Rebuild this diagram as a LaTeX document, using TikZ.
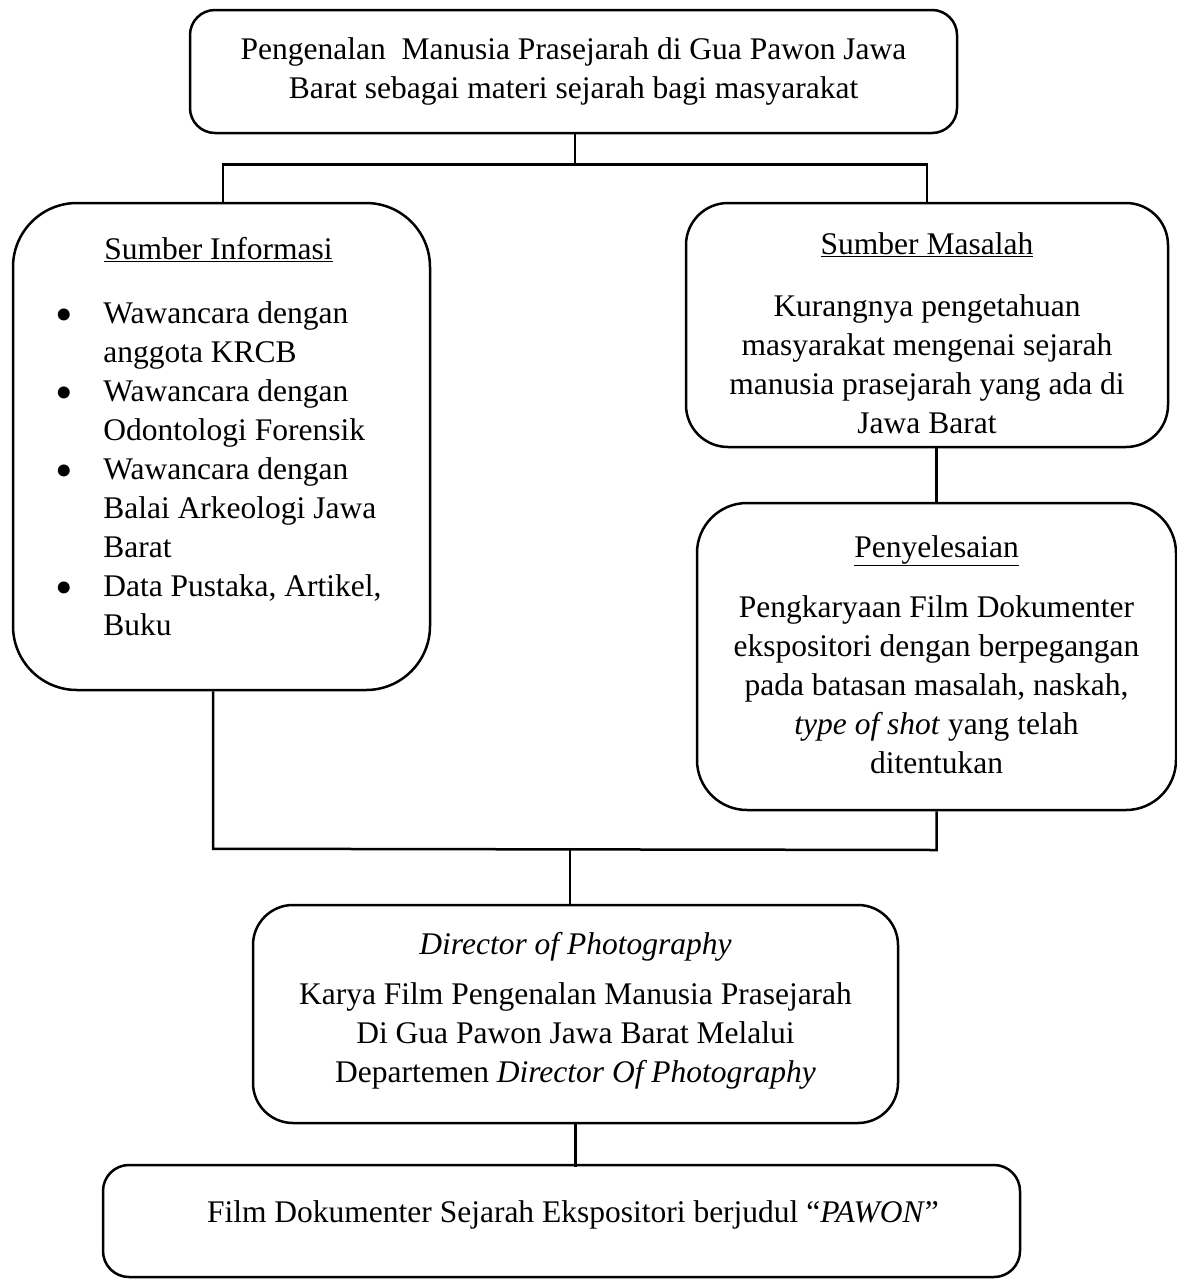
\documentclass[tikz,border=0pt]{standalone}
\usepackage{fontspec}
\setmainfont{Liberation Serif}
\usetikzlibrary{positioning}
\newcommand{\butir}{{\fontsize{50}{39}\selectfont\raisebox{-8pt}{\textbullet}}}

\begin{document}
\begin{tikzpicture}[
  x=1pt, y=-1pt,
  font=\fontsize{31.5}{39}\selectfont,
  link/.style={line width=2.5pt},
  rbox/.style={rectangle, draw, line width=2.5pt, inner sep=0pt},
  txt/.style={inner sep=0pt, align=center},
]
\useasboundingbox (0,0) rectangle (1176,1280);

%% ===== Topic =====
\node[rbox, rounded corners=25pt, minimum width=767pt, minimum height=123pt,
      align=center] (topik) at (573.5,71.5)
  {Pengenalan\ \ Manusia Prasejarah di Gua Pawon Jawa\\
   Barat sebagai materi sejarah bagi masyarakat};

%% ===== Left: information =====
\node[rbox, rounded corners=64pt, minimum width=417pt, minimum height=487pt]
  (info) at (221.5,446.5) {};
\node[txt, below=30.5pt of info.north, xshift=-3pt] (infotxt) {%
  \begin{tabular}{@{}p{48pt}@{}l@{}}
    \multicolumn{2}{c}{\underline{Sumber Informasi}}\\[25pt]
    \butir & Wawancara dengan\\
           & anggota KRCB\\
    \butir & Wawancara dengan\\
           & Odontologi Forensik\\
    \butir & Wawancara dengan\\
           & Balai Arkeologi Jawa\\
           & Barat\\
    \butir & Data Pustaka, Artikel,\\
           & Buku
  \end{tabular}};

%% ===== Right: problem and solution =====
\node[rbox, rounded corners=42pt, minimum width=482pt, minimum height=244pt]
  (masalah) at (927,325) {};
\node[txt, below=30.5pt of masalah.north] (masalahtxt)
  {\underline{Sumber Masalah}\\[23pt]
   Kurangnya pengetahuan\\
   masyarakat mengenai sejarah\\
   manusia prasejarah yang ada di\\
   Jawa Barat};

\node[rbox, rounded corners=50pt, minimum width=479pt, minimum height=307pt]
  (solusi) at (936.5,656.5) {};
\node[txt, below=33.5pt of solusi.north] (solusitxt)
  {\underline{Penyelesaian}\\[21pt]
   Pengkaryaan Film Dokumenter\\
   ekspositori dengan berpegangan\\
   pada batasan masalah, naskah,\\
   \textit{type of shot} yang telah\\
   ditentukan};

%% ===== Bottom: DoP and result =====
\node[rbox, rounded corners=40pt, minimum width=645pt, minimum height=218pt]
  (dop) at (575.5,1014) {};
\node[txt, below=28.5pt of dop.north] (doptxt)
  {\textit{Director of Photography}\\[11pt]
   Karya Film Pengenalan Manusia Prasejarah\\
   Di Gua Pawon Jawa Barat Melalui\\
   Departemen \textit{Director Of Photography}};

\node[rbox, rounded corners=26pt, minimum width=917pt, minimum height=112pt]
  (film) at (561.5,1221) {};
\node[txt, below=36.5pt of film.north, xshift=11.5pt] (filmtxt)
  {Film Dokumenter Sejarah Ekspositori berjudul ``\textit{PAWON}''};

%% ===== Connectors =====
\draw[link] ([xshift=1.5pt]topik.south) -- ++(0,30) coordinate (cabang);
\draw[link] ([xshift=1.5pt]info.north) |- (cabang) -| (masalah.north);
\draw[link] (solusi.north |- masalah.south) -- (solusi.north);

\coordinate (gabung) at (570,847.5);
\draw[link] ([xshift=-8.5pt]info.south) -- ++(0,157.5) coordinate (gabungkiri)
  -- (solusi.south |- 0,850) -- (solusi.south);
\draw[link] (gabung) -- (gabung |- dop.north);
\draw[link] (dop.south) -- ([yshift=-3pt]dop.south |- film.north);

\end{tikzpicture}
\end{document}
